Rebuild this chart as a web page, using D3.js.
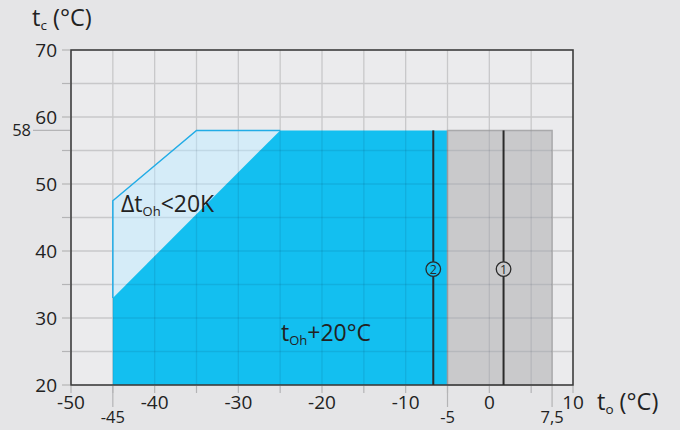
<!DOCTYPE html>
<html>
<head>
<meta charset="utf-8">
<script src="https://cdn.jsdelivr.net/npm/d3@7"></script>
<style>
  html, body { margin: 0; padding: 0; background: #e5e5e7; }
  svg { display: block; font-family: "Open Sans", "Noto Sans", sans-serif; }
</style>
</head>
<body>
<svg id="chart" width="680" height="430"></svg>
<script>
// Ambient temperature t_o (°C) on x, condensing temperature t_c (°C) on y
const xDomain = [-50, 10];
const yDomain = [20, 70];
const xTickLabels = [-50, -40, -30, -20, -10, 0, 10];
const yTickLabels = [20, 30, 40, 50, 60, 70];
const gridStep = 5;
const xLimitLabels = [-45, -5, 7.5];
const yLimitLabels = [58];

// Operating envelope areas as [t_o, t_c] corners
const reducedSuperheatArea = [[-45, 33], [-45, 47.5], [-35, 58], [-25, 58]];
const standardArea = [[-45, 20], [-45, 33], [-25, 58], [-5, 58], [-5, 20]];
const extendedArea = [[-5, 20], [-5, 58], [7.5, 58], [7.5, 20]];

// Refrigerant limit lines
const limitLines = [
  { id: "2", to: -6.7, tcTop: 58, markerAt: 37.3, fill: "#13bff0" },
  { id: "1", to: 1.7, tcTop: 58, markerAt: 37.3, fill: "#c9c9cb" }
];

const svg = d3.select("#chart");
const x = d3.scaleLinear().domain(xDomain).range([71, 573]);
const y = d3.scaleLinear().domain(yDomain).range([385, 50]);
const line = d3.line().x(d => x(d[0])).y(d => y(d[1]));

// plot background
svg.append("rect")
  .attr("x", x(xDomain[0])).attr("y", y(yDomain[1]))
  .attr("width", x(xDomain[1]) - x(xDomain[0]))
  .attr("height", y(yDomain[0]) - y(yDomain[1]))
  .attr("fill", "#ebebed");

const xGrid = d3.range(xDomain[0] + gridStep, xDomain[1], gridStep);
const yGrid = d3.range(yDomain[0] + gridStep, yDomain[1], gridStep);

function drawGrid(g, color) {
  g.selectAll("line.v").data(xGrid).join("line").attr("class", "v")
    .attr("x1", d => x(d)).attr("x2", d => x(d))
    .attr("y1", y(yDomain[0])).attr("y2", y(yDomain[1]))
    .attr("stroke", color).attr("stroke-width", 1.3);
  g.selectAll("line.h").data(yGrid).join("line").attr("class", "h")
    .attr("y1", d => y(d)).attr("y2", d => y(d))
    .attr("x1", x(xDomain[0])).attr("x2", x(xDomain[1]))
    .attr("stroke", color).attr("stroke-width", 1.3);
}
drawGrid(svg.append("g"), "#c8c8ca");

// envelope areas
svg.append("path").datum(reducedSuperheatArea)
  .attr("d", line.curve(d3.curveLinearClosed))
  .attr("fill", "#d5ecf8");
svg.append("path").datum(standardArea)
  .attr("d", line.curve(d3.curveLinearClosed))
  .attr("fill", "#13bff0");
svg.append("path").datum(extendedArea)
  .attr("d", line.curve(d3.curveLinearClosed))
  .attr("fill", "#c9c9cb")
  .attr("stroke", "#a9a9ab").attr("stroke-width", 1.5);

// grid showing through the areas
const defs = svg.append("defs");
const clip = defs.append("clipPath").attr("id", "areas");
[reducedSuperheatArea, standardArea, extendedArea].forEach(a =>
  clip.append("path").attr("d", line.curve(d3.curveLinearClosed)(a)));
drawGrid(svg.append("g").attr("clip-path", "url(#areas)"), "rgba(0,20,40,0.09)");

// outline of the reduced superheat area (left and upper edges)
svg.append("path")
  .datum(reducedSuperheatArea)
  .attr("d", line.curve(d3.curveLinear))
  .attr("fill", "none").attr("stroke", "#22ace6").attr("stroke-width", 1.5);

// frame
svg.append("rect")
  .attr("x", x(xDomain[0])).attr("y", y(yDomain[1]))
  .attr("width", x(xDomain[1]) - x(xDomain[0]))
  .attr("height", y(yDomain[0]) - y(yDomain[1]))
  .attr("fill", "none").attr("stroke", "#3c3c3c").attr("stroke-width", 1.6);

// refrigerant limit lines with numbered markers
const lim = svg.append("g");
limitLines.forEach(l => {
  lim.append("line")
    .attr("x1", x(l.to)).attr("x2", x(l.to))
    .attr("y1", y(l.tcTop)).attr("y2", y(yDomain[0]))
    .attr("stroke", "#2a2a2a").attr("stroke-width", 2);
  lim.append("circle")
    .attr("cx", x(l.to)).attr("cy", y(l.markerAt)).attr("r", 7.3)
    .attr("fill", l.fill).attr("stroke", "#2a2a2a").attr("stroke-width", 1.3);
  lim.append("text")
    .attr("x", x(l.to)).attr("y", y(l.markerAt) + 4.5)
    .attr("text-anchor", "middle").attr("font-size", 12.5)
    .attr("fill", "#2a2a2a").text(l.id);
});

// axis ticks
const tickColor = "#b4b4b6";
const xTicks = d3.range(xDomain[0], xDomain[1] + 0.01, gridStep);
svg.append("g").selectAll("line").data(xTicks).join("line")
  .attr("x1", d => x(d)).attr("x2", d => x(d))
  .attr("y1", y(yDomain[0]) + 1).attr("y2", y(yDomain[0]) + 8)
  .attr("stroke", tickColor).attr("stroke-width", 1.2);
svg.append("g").selectAll("line").data(xLimitLabels).join("line")
  .attr("x1", d => x(d)).attr("x2", d => x(d))
  .attr("y1", y(yDomain[0]) + 1).attr("y2", y(yDomain[0]) + 22)
  .attr("stroke", tickColor).attr("stroke-width", 1.2);
const yTicks = d3.range(yDomain[0], yDomain[1] + 0.01, gridStep);
svg.append("g").selectAll("line").data(yTicks).join("line")
  .attr("y1", d => y(d)).attr("y2", d => y(d))
  .attr("x1", x(xDomain[0]) - 9).attr("x2", x(xDomain[0]) - 1)
  .attr("stroke", tickColor).attr("stroke-width", 1.2);
svg.append("g").selectAll("line").data(yLimitLabels).join("line")
  .attr("y1", d => y(d)).attr("y2", d => y(d))
  .attr("x1", 33).attr("x2", x(xDomain[0]) - 1)
  .attr("stroke", tickColor).attr("stroke-width", 1.2);

// tick labels
const fmt = v => String(v).replace(".", ",");
svg.append("g").selectAll("text").data(xTickLabels).join("text")
  .attr("x", d => x(d)).attr("y", 409)
  .attr("text-anchor", "middle").attr("font-size", 19).attr("fill", "#222")
  .text(d => fmt(d));
svg.append("g").selectAll("text").data(xLimitLabels).join("text")
  .attr("x", d => x(d)).attr("y", 423)
  .attr("text-anchor", "middle").attr("font-size", 16.5).attr("fill", "#222")
  .text(d => fmt(d));
svg.append("g").selectAll("text").data(yTickLabels).join("text")
  .attr("x", 57).attr("y", d => y(d) + 7)
  .attr("text-anchor", "end").attr("font-size", 19).attr("fill", "#222")
  .text(d => fmt(d));
svg.append("g").selectAll("text").data(yLimitLabels).join("text")
  .attr("x", 31).attr("y", d => y(d) + 6)
  .attr("text-anchor", "end").attr("font-size", 16.5).attr("fill", "#222")
  .text(d => fmt(d));

// text with a subscript part
function subText(px, py, size, main, sub, rest, subSize, shift) {
  const t = svg.append("text").attr("x", px).attr("y", py)
    .attr("font-size", size).attr("fill", "#222");
  t.append("tspan").text(main);
  t.append("tspan").attr("font-size", subSize).attr("dy", shift).text(sub);
  t.append("tspan").attr("dy", -shift).text(rest);
  return t;
}

// axis titles
subText(32, 26, 23.5, "t", "c", " (°C)", 13.5, 3.5);
subText(597, 410, 23.5, "t", "o", " (°C)", 13.5, 3.5);

// area annotations
subText(121, 212, 23, "Δt", "Oh", "<20K", 13, 4);
subText(281, 341, 23, "t", "Oh", "+20°C", 13, 4);
</script>
</body>
</html>
